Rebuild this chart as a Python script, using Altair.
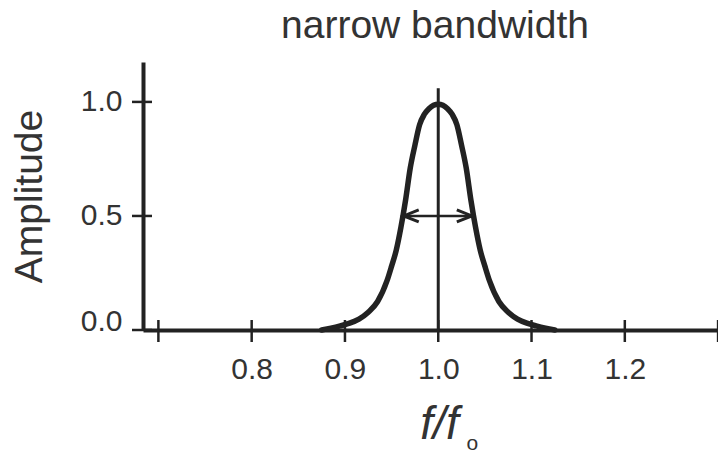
import altair as alt
import pandas as pd

# Curve (f/fo vs amplitude)
freq = [0.875, 0.885, 0.895, 0.905, 0.915, 0.925, 0.935, 0.945,
        0.950, 0.955, 0.960, 0.965, 0.970, 0.975, 0.980, 0.985, 0.990, 0.995,
        1.000,
        1.005, 1.010, 1.015, 1.020, 1.025, 1.030, 1.035, 1.040, 1.045, 1.050,
        1.055, 1.065, 1.075, 1.085, 1.095, 1.105, 1.115, 1.125]
amp = [0.0, 0.008, 0.018, 0.03, 0.048, 0.078, 0.125, 0.215,
       0.28, 0.35, 0.45, 0.57, 0.71, 0.81, 0.90, 0.945, 0.970, 0.985,
       0.99,
       0.985, 0.970, 0.945, 0.90, 0.81, 0.71, 0.57, 0.45, 0.35, 0.28,
       0.215, 0.125, 0.078, 0.048, 0.03, 0.018, 0.008, 0.0]

x_labels = [0.8, 0.9, 1.0, 1.1, 1.2]
x_ticks = [0.7, 0.8, 0.9, 1.0, 1.1, 1.2, 1.3]
y_ticks = [0.0, 0.5, 1.0]

title_text = "narrow bandwidth"
center = 1.0
center_top = 1.06
half_level = 0.5
arrow_left = 0.963
arrow_right = 1.036

x_min, x_max = 0.6835, 1.2999
y_min, y_max = 0.0, 1.175

INK = "#222222"
TXT = "#333333"
FONT = "Liberation Sans"

xs = alt.Scale(domain=[x_min, x_max], nice=False, zero=False)
ys = alt.Scale(domain=[y_min, y_max], nice=False, zero=False)

curve_df = pd.DataFrame({"f": freq, "a": amp})
one = pd.DataFrame({"k": [0]})

curve = alt.Chart(curve_df).mark_line(
    color=INK, strokeWidth=5.5, interpolate="monotone", strokeCap="round"
).encode(
    x=alt.X("f:Q", scale=xs, axis=alt.Axis(
        values=x_labels, format=".1f", ticks=False, grid=False,
        labelFont=FONT, labelFontSize=30, labelColor=TXT, labelPadding=24,
        domainColor=INK, domainWidth=4,
        title="f/f", titleFont=FONT, titleFontSize=46, titleFontStyle="italic",
        titleFontWeight="normal", titleColor=TXT, titleX=296, titleY=108,
        titleBaseline="alphabetic", titleAlign="center",
    )),
    y=alt.Y("a:Q", scale=ys, axis=alt.Axis(
        values=y_ticks, format=".1f", ticks=False, grid=False,
        labelFont=FONT, labelFontSize=30, labelColor=TXT, labelPadding=21,
        labelBaseline={"condition": {"test": "datum.value === 0", "value": "alphabetic"}, "value": "middle"},
        domainColor=INK, domainWidth=4,
        title="Amplitude", titleFont=FONT, titleFontSize=39,
        titleFontWeight="normal", titleColor=TXT, titlePadding=31,
    )),
)

vline = alt.Chart(one).mark_rule(color=INK, strokeWidth=3).encode(
    x=alt.datum(center), y=alt.datum(y_min), y2=alt.datum(center_top)
)

arrow = alt.Chart(one).mark_rule(color=INK, strokeWidth=2.5).encode(
    x=alt.datum(arrow_left), x2=alt.datum(arrow_right), y=alt.datum(half_level)
)

head_left = alt.Chart(one).mark_point(
    shape="M 1 -0.4 L 0 0 L 1 0.4", filled=False, size=900,
    color=INK, strokeWidth=3, opacity=1
).encode(x=alt.datum(arrow_left), y=alt.datum(half_level))

head_right = alt.Chart(one).mark_point(
    shape="M -1 -0.4 L 0 0 L -1 0.4", filled=False, size=900,
    color=INK, strokeWidth=3, opacity=1
).encode(x=alt.datum(arrow_right), y=alt.datum(half_level))

xtick_df = pd.DataFrame({"t": x_ticks})
xtick_rules = alt.Chart(xtick_df).mark_rule(
    color=INK, strokeWidth=2.5, yOffset=12, y2Offset=-10
).encode(x="t:Q", y=alt.datum(y_min), y2=alt.datum(y_min))

ytick_df = pd.DataFrame({"t": y_ticks})
ytick_rules = alt.Chart(ytick_df).mark_rule(
    color=INK, strokeWidth=2.5, xOffset=-11, x2Offset=9
).encode(y="t:Q", x=alt.datum(x_min), x2=alt.datum(x_min))

subscript = alt.Chart(one).mark_text(
    text="o", font=FONT, fontSize=21, color=TXT, dx=34, dy=120,
    baseline="alphabetic", align="center"
).encode(x=alt.datum(center), y=alt.datum(y_min))

title_mark = alt.Chart(one).mark_text(
    text=title_text, font=FONT, fontSize=39, color=TXT,
    baseline="alphabetic", align="center"
).encode(x=alt.value(292), y=alt.value(-24))

chart = alt.layer(
    curve, vline, arrow, head_left, head_right, xtick_rules, ytick_rules,
    subscript, title_mark
).properties(
    width=575, height=268,
    background="white",
    autosize=alt.AutoSizeParams(type="none"),
    padding={"left": 135, "top": 54, "right": 0, "bottom": 122},
).configure_view(stroke=None)

chart.save("out.html", embed_options={"renderer": "svg", "actions": False})
